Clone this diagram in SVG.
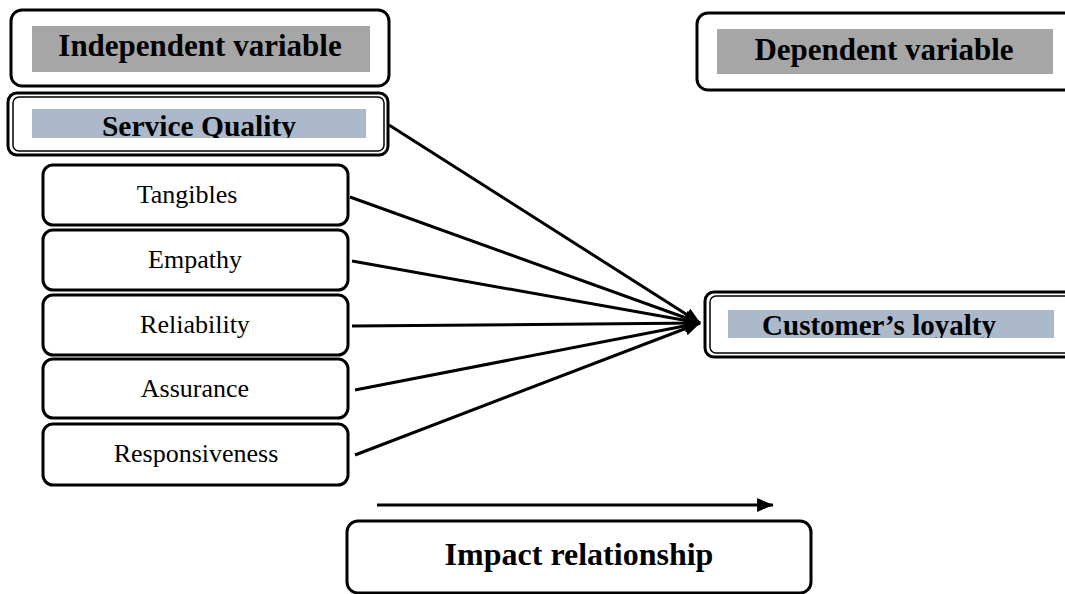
<svg xmlns="http://www.w3.org/2000/svg" width="1065" height="594" viewBox="0 0 1065 594">
<style>
.box{fill:#fff;stroke:#000;stroke-width:3}
.thin{fill:none;stroke:#000;stroke-width:1.5}
.hdr{font-family:"Liberation Serif",serif;font-weight:bold;font-size:31px;text-anchor:middle}
.lbl{font-family:"Liberation Serif",serif;font-size:26px;text-anchor:middle}
.con{stroke:#000;stroke-width:3;fill:none}
</style>
<defs>
<marker id="ah" markerWidth="6" markerHeight="5" refX="5.3" refY="2.3" orient="auto" markerUnits="strokeWidth"><path d="M0,0 L5.5,2.3 L0,4.6 z" fill="#000"/></marker>
<clipPath id="c1"><rect x="32" y="109" width="334" height="29"/></clipPath>
<clipPath id="c2"><rect x="728" y="310" width="326" height="28"/></clipPath>
</defs>
<g id="independent">
<rect class="box" x="11" y="10" width="378" height="76" rx="11"/>
<rect x="32" y="26" width="338" height="46" fill="#a6a6a6"/>
<text class="hdr" x="200" y="56">Independent variable</text>
</g>
<g id="dependent">
<rect class="box" x="697" y="13" width="400" height="77" rx="11"/>
<rect x="717" y="29" width="336" height="45" fill="#a6a6a6"/>
<text class="hdr" x="884" y="60">Dependent variable</text>
</g>
<g id="service-quality">
<rect class="box" x="8" y="93" width="380" height="62" rx="9"/>
<rect class="thin" x="13" y="97" width="371" height="54" rx="6"/>
<rect x="32" y="109" width="334" height="29" fill="#acb9ca"/>
<text class="hdr" x="199" y="136" clip-path="url(#c1)" style="font-size:29.5px">Service Quality</text>
</g>
<g id="customers-loyalty">
<rect class="box" x="705" y="292" width="400" height="65" rx="9"/>
<rect class="thin" x="710" y="296" width="400" height="57" rx="6"/>
<rect x="728" y="310" width="326" height="28" fill="#acb9ca"/>
<text class="hdr" x="879" y="335" clip-path="url(#c2)" style="font-size:29px">Customer’s loyalty</text>
</g>
<g id="tangibles"><rect class="box" x="43" y="165" width="305" height="60" rx="10"/><text class="lbl" x="187" y="203">Tangibles</text></g>
<g id="empathy"><rect class="box" x="43" y="230" width="305" height="60" rx="10"/><text class="lbl" x="195" y="268">Empathy</text></g>
<g id="reliability"><rect class="box" x="43" y="295" width="305" height="60" rx="10"/><text class="lbl" x="195" y="333">Reliability</text></g>
<g id="assurance"><rect class="box" x="43" y="359" width="305" height="59" rx="10"/><text class="lbl" x="195" y="397">Assurance</text></g>
<g id="responsiveness"><rect class="box" x="43" y="424" width="305" height="61" rx="10"/><text class="lbl" x="196" y="462">Responsiveness</text></g>
<g id="impact">
<rect class="box" x="347" y="521" width="464" height="72" rx="11"/>
<text class="hdr" x="579" y="565" style="font-size:32px">Impact relationship</text>
</g>
<g id="connectors">
<line class="con" x1="389" y1="125" x2="700" y2="323" marker-end="url(#ah)"/>
<line class="con" x1="350" y1="197" x2="700" y2="323" marker-end="url(#ah)"/>
<line class="con" x1="352" y1="261" x2="700" y2="323" marker-end="url(#ah)"/>
<line class="con" x1="352" y1="326" x2="700" y2="323" marker-end="url(#ah)"/>
<line class="con" x1="355" y1="390" x2="700" y2="323" marker-end="url(#ah)"/>
<line class="con" x1="355" y1="455" x2="700" y2="323" marker-end="url(#ah)"/>
<line class="con" x1="377" y1="505" x2="773" y2="505" marker-end="url(#ah)"/>
</g>
</svg>
